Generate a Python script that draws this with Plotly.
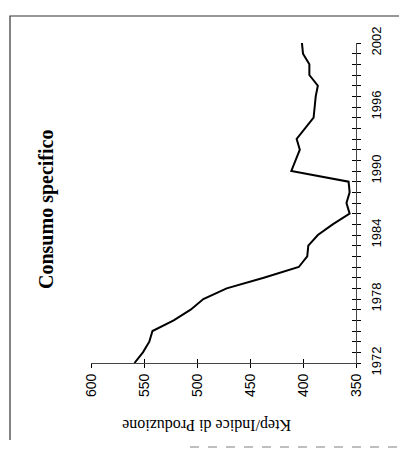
import plotly.graph_objects as go

years = list(range(1972, 2003))
consumo = [559, 551, 545, 542, 522, 506, 494, 472, 437, 404, 396, 395, 386, 372,
           356, 359, 356, 357, 411, 407, 403, 406, 398, 390, 389, 388, 386, 394,
           394, 400, 401]

value_ticks = [600, 550, 500, 450, 400, 350]
year_ticks = years
year_labels = [str(y) if (y - 1972) % 6 == 0 else "" for y in years]

title_text = "Consumo specifico"
axis_title = "Ktep/Indice di Produzione"

OFF = 8  # page body margin offset
W, H = 407 - OFF, 450 - OFF
L, T = 91 - OFF, 43 - OFF
R, B = 407 - 356, 450 - 363
pw, ph = W - L - R, H - T - B


def px2u(px):
    return (px - OFF - L) / pw


def py2v(py):
    return 1 - (py - OFF - T) / ph


fig = go.Figure()
fig.add_trace(go.Scatter(x=consumo, y=years, mode="lines",
                         line=dict(color="black", width=2),
                         hoverinfo="skip", showlegend=False))
# invisible trace to carry the inside-tick overlay axes
fig.add_trace(go.Scatter(x=consumo, y=years, xaxis="x2", yaxis="y2", mode="lines",
                         line=dict(color="rgba(0,0,0,0)", width=0),
                         hoverinfo="skip", showlegend=False))

tickfont_v = dict(family="Liberation Sans, Arial, sans-serif", size=14, color="black")
tickfont_y = dict(family="Liberation Sans, Arial, sans-serif", size=13, color="black")

fig.update_layout(
    width=W, height=H,
    margin=dict(l=L, r=R, t=T, b=B, pad=0),
    paper_bgcolor="white", plot_bgcolor="white",
    showlegend=False,
    xaxis=dict(range=[600, 350], tickvals=value_ticks, ticks="outside", ticklen=4,
               tickcolor="black", tickwidth=1, showline=True, linecolor="#444",
               linewidth=1.2, showgrid=False, zeroline=False, tickangle=-90,
               tickfont=tickfont_v, anchor="y", side="bottom"),
    yaxis=dict(range=[1972, 2002], tickvals=year_ticks, ticktext=year_labels,
               ticks="outside", ticklen=4, tickcolor="black", tickwidth=1,
               showline=True, linecolor="#444", linewidth=1.2, showgrid=False,
               zeroline=False, side="right", anchor="x", tickangle=-90,
               tickfont=tickfont_y, ticklabelstandoff=4),
    xaxis2=dict(range=[600, 350], tickvals=value_ticks, ticks="inside", ticklen=4,
                tickcolor="black", tickwidth=1, showticklabels=False, showline=False,
                showgrid=False, zeroline=False, overlaying="x", anchor="y2",
                side="bottom"),
    yaxis2=dict(range=[1972, 2002], tickvals=year_ticks, ticks="inside", ticklen=4,
                tickcolor="black", tickwidth=1, showticklabels=False, showline=False,
                showgrid=False, zeroline=False, overlaying="y", side="right",
                anchor="x2"),
)

fig.add_annotation(text="<b>" + title_text + "</b>", xref="paper", yref="paper",
                   x=px2u(46), y=py2v(210), textangle=-90, showarrow=False,
                   font=dict(family="Liberation Serif, Times New Roman, serif",
                             size=20, color="black"),
                   xanchor="center", yanchor="middle")
fig.add_annotation(text=axis_title, xref="paper", yref="paper",
                   x=px2u(207), y=py2v(425), textangle=180, showarrow=False,
                   font=dict(family="Liberation Serif, Times New Roman, serif",
                             size=16, color="black"),
                   xanchor="center", yanchor="middle")

# frame around the chart
fig.add_shape(type="path", xref="paper", yref="paper",
              path="M {x0},{y1} L {x0},{y0} L {x1},{y0}".format(
                  x0=px2u(10), y0=py2v(16), x1=px2u(405), y1=py2v(440)),
              line=dict(color="#333", width=1.2))
fig.add_shape(type="line", xref="paper", yref="paper",
              x0=px2u(190), x1=px2u(406), y0=py2v(447), y1=py2v(447),
              line=dict(color="#aaa", width=1.5, dash="dash"))

fig.write_html("out.html")
